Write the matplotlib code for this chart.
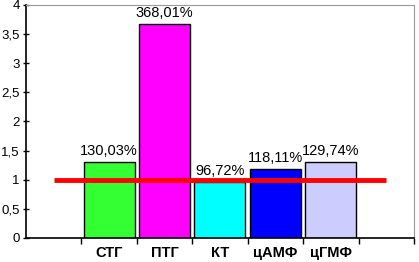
import numpy as np
import matplotlib
matplotlib.use('Agg')
import matplotlib.pyplot as plt

plt.rcParams['font.family'] = ['Liberation Sans', 'DejaVu Sans']

# data
categories = ['', 'СТГ', 'ПТГ', 'КТ', 'цАМФ', 'цГМФ', '']
values = [1.3003, 3.6801, 0.9672, 1.1811, 1.2974]
value_labels = ['130,03%', '368,01%', '96,72%', '118,11%', '129,74%']
bar_colors = ['#33FF33', '#FF00FF', '#00FFFF', '#0000FF', '#CCCCFF']
control = [1, 1, 1, 1, 1, 1, 1]
yticks = [0, 0.5, 1, 1.5, 2, 2.5, 3, 3.5, 4]
ytick_labels = ['0', '0,5', '1', '1,5', '2', '2,5', '3', '3,5', '4']

fig = plt.figure(figsize=(4.19, 2.62), dpi=100)
ax = fig.add_axes([0.062, 0.092, 0.926, 0.889])

xs = np.arange(len(categories))
bar_x = xs[1:1 + len(values)]
ax.bar(bar_x, values, width=0.92, color=bar_colors, edgecolor='black', linewidth=1, zorder=2)
for x, v, lab in zip(bar_x, values, value_labels):
    ax.text(x, v + 0.07, lab, ha='center', va='bottom', fontsize=10.5, zorder=4)

ax.plot(xs, control, color='#FF0000', linewidth=3.5, zorder=3, solid_capstyle='butt')

ax.set_xlim(-0.5, len(categories) - 0.5)
ax.set_ylim(0, 4)
ax.set_yticks(yticks)
ax.set_yticklabels(ytick_labels, fontsize=9.5)
ax.set_xticks(np.arange(0.5, len(categories), 1.0))
ax.set_xticklabels([])
ax.set_xticks(xs, minor=True)
ax.set_xticklabels(categories, minor=True, fontsize=10.5, fontweight='bold')
ax.tick_params(axis='x', which='major', direction='out', length=4, width=1)
ax.tick_params(axis='x', which='minor', length=0, pad=6)
ax.tick_params(axis='y', direction='inout', length=5, width=1, pad=2)

ax.spines['top'].set_color('#999999')
ax.spines['right'].set_color('#999999')
for s in ['left', 'bottom']:
    ax.spines[s].set_linewidth(1.2)

fig.savefig('out.png', dpi=100)
